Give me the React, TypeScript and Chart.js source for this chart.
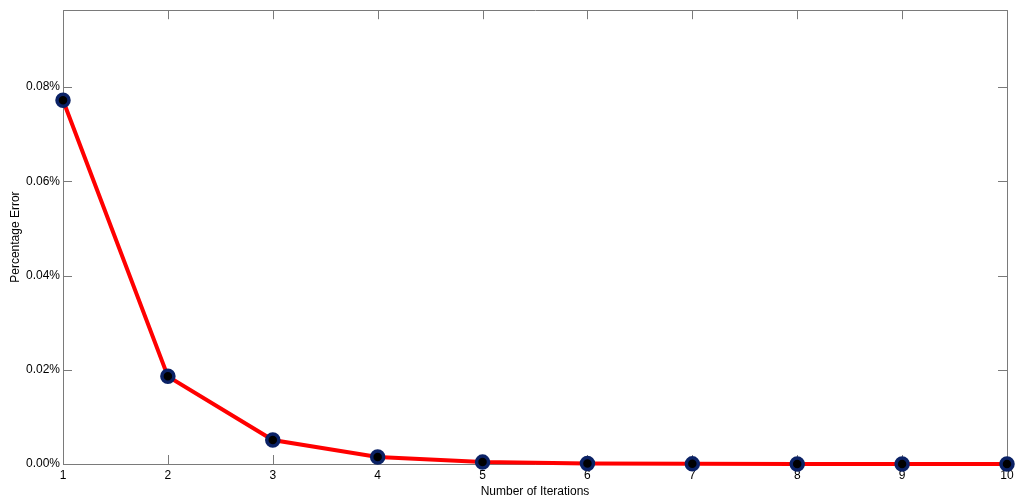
import React, { useEffect, useRef } from "react";
import { Chart, registerables } from "chart.js";

Chart.register(...registerables);

const iterations = ["1", "2", "3", "4", "5", "6", "7", "8", "9", "10"];
const percentError = [0.0772, 0.0186, 0.0051, 0.0015, 0.0004, 0.0001, 0.00003, 0.00001, 0.0, 0.0];
const yTicks = [0, 0.02, 0.04, 0.06, 0.08];
const xTitle = "Number of Iterations";
const yTitle = "Percentage Error";

const boxPlugin = {
  id: "boxTicks",
  beforeDatasetsDraw(chart: any) {
    const { ctx, chartArea } = chart;
    const { left, right, top, bottom } = chartArea;
    const xs = chart.scales.x;
    const ys = chart.scales.y;
    ctx.save();
    ctx.strokeStyle = "#7a7a7a";
    ctx.lineWidth = 1;
    ctx.beginPath();
    ctx.rect(Math.round(left) + 0.5, Math.round(top) + 0.5, Math.round(right - left), Math.round(bottom - top));
    ctx.stroke();
    const tl = 9;
    ctx.beginPath();
    iterations.forEach((_, i) => {
      const x = Math.round(xs.getPixelForValue(i)) + 0.5;
      ctx.moveTo(x, bottom);
      ctx.lineTo(x, bottom - tl);
      ctx.moveTo(x, top);
      ctx.lineTo(x, top + tl);
    });
    yTicks.forEach((v) => {
      const y = Math.round(ys.getPixelForValue(v)) + 0.5;
      ctx.moveTo(left, y);
      ctx.lineTo(left + tl, y);
      ctx.moveTo(right, y);
      ctx.lineTo(right - tl, y);
    });
    ctx.stroke();
    ctx.restore();
  },
};

export default function App() {
  const ref = useRef<HTMLCanvasElement>(null);
  useEffect(() => {
    if (!ref.current) return;
    const font = { family: "'Liberation Sans', Arial, sans-serif", size: 12 };
    const chart = new Chart(ref.current, {
      type: "line",
      data: {
        labels: iterations,
        datasets: [
          {
            data: percentError,
            borderColor: "#ff0000",
            borderWidth: 4,
            pointRadius: 6,
            pointBorderWidth: 3.5,
            pointBackgroundColor: "#000000",
            pointBorderColor: "#0b2266",
            tension: 0,
            clip: false as any,
          },
        ],
      },
      options: {
        animation: false,
        responsive: false,
        maintainAspectRatio: false,
        layout: { padding: { top: 8, right: 17, left: 0, bottom: 0 } },
        plugins: { legend: { display: false }, tooltip: { enabled: false } },
        scales: {
          x: {
            offset: false,
            grid: { display: false, drawTicks: false },
            border: { display: false },
            ticks: { color: "#000", font, padding: 4, maxRotation: 0, autoSkip: false },
            title: { display: true, text: xTitle, color: "#000", font, padding: { top: 0, bottom: 4 } },
            afterFit: (s: any) => {
              s.height = 39;
            },
          },
          y: {
            min: 0,
            max: 0.0963,
            grid: { display: false, drawTicks: false },
            border: { display: false },
            afterBuildTicks: (s: any) => {
              s.ticks = yTicks.map((v) => ({ value: v }));
            },
            ticks: {
              color: "#000",
              font,
              padding: 3,
              callback: (v: any) => Number(v).toFixed(2) + "%",
            },
            title: { display: true, text: yTitle, color: "#000", font, padding: { top: 8, bottom: 0 } },
            afterFit: (s: any) => {
              s.width = 63;
            },
          },
        },
      },
      plugins: [boxPlugin],
    });
    return () => chart.destroy();
  }, []);
  return (
    <div style={{ position: "fixed", left: 0, top: 0, width: 1024, height: 503, background: "#fff" }}>
      <canvas ref={ref} width={1024} height={503} />
    </div>
  );
}
